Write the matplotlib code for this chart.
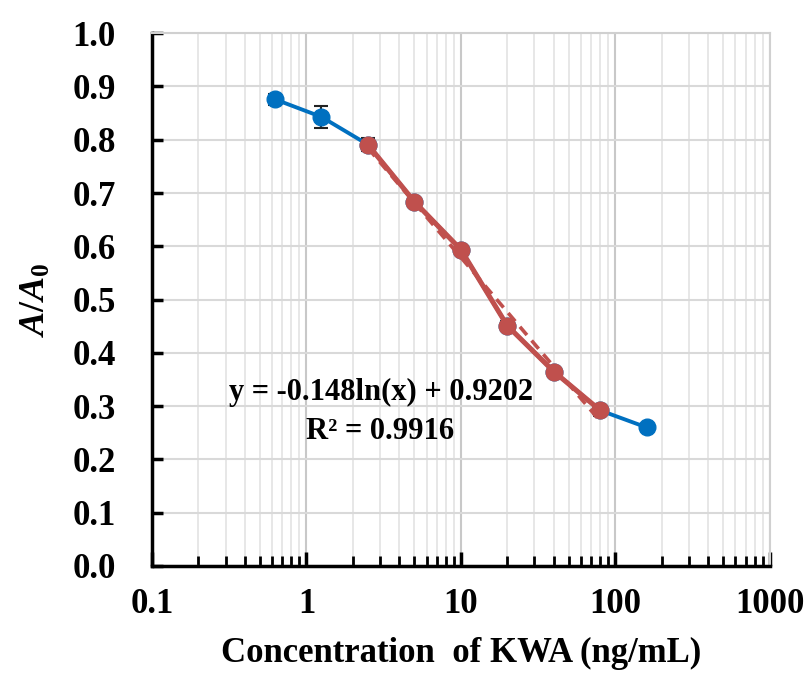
import numpy as np
import matplotlib.pyplot as plt
from matplotlib.ticker import LogLocator, NullFormatter

plt.rcParams['font.family'] = ['Liberation Serif', 'DejaVu Serif']
plt.rcParams['font.weight'] = 'bold'
plt.rcParams['mathtext.fontset'] = 'custom'
plt.rcParams['mathtext.it'] = 'Liberation Serif:italic:bold'
plt.rcParams['mathtext.rm'] = 'Liberation Serif:bold'

# data
conc = [0.625, 1.25, 2.5, 5, 10, 20, 40, 80, 160]
ratio = [0.876, 0.843, 0.791, 0.684, 0.594, 0.451, 0.365, 0.292, 0.260]
err = [0.010, 0.020, 0.012, 0.006, 0.008, 0.008, 0.008, 0.010, 0.006]

lin_conc = [2.5, 5, 10, 20, 40, 80]
lin_ratio = [0.791, 0.684, 0.594, 0.451, 0.365, 0.292]
fit_a, fit_b = -0.148, 0.9202

blue = '#0070C0'
red = '#C0504D'

fig = plt.figure(figsize=(8.11, 6.75), dpi=100)
ax = fig.add_axes([0.1874, 0.1615, 0.7616, 0.7893])

ax.errorbar(conc, ratio, yerr=err, color=blue, lw=2.8, marker='o', ms=12,
            ecolor='#222222', elinewidth=1.5, capsize=5, capthick=1.5, zorder=3)
ax.plot(lin_conc, lin_ratio, color=red, lw=3.6, marker='o', ms=12, zorder=4)
xs = np.geomspace(lin_conc[0], lin_conc[-1], 50)
ax.plot(xs, fit_a * np.log(xs) + fit_b, color=red, lw=2.6, ls=(0, (3, 2)), zorder=5)

ax.set_xscale('log')
ax.set_xlim(0.1, 1000)
ax.set_ylim(0, 1.0)
ax.set_xticks([0.1, 1, 10, 100, 1000])
ax.set_xticklabels(['0.1', '1', '10', '100', '1000'])
ax.xaxis.set_minor_locator(LogLocator(base=10, subs=np.arange(2, 10)))
ax.xaxis.set_minor_formatter(NullFormatter())
ax.set_yticks(np.arange(0, 1.01, 0.1))
ax.set_yticklabels(['%.1f' % v for v in np.arange(0, 1.01, 0.1)])

ax.grid(which='major', axis='x', color='#C8C8C8', lw=1.5)
ax.grid(which='minor', axis='x', color='#E3E3E3', lw=1.2)
ax.grid(which='major', axis='y', color='#D9D9D9', lw=1.5)
ax.set_axisbelow(True)

for s in ['left', 'bottom']:
    ax.spines[s].set_linewidth(2.5)
    ax.spines[s].set_color('black')
for s in ['right', 'top']:
    ax.spines[s].set_color('#D0D0D0')
    ax.spines[s].set_linewidth(1.5)

ax.tick_params(axis='both', which='major', direction='in', length=8, width=2.5,
               labelsize=25, top=False, right=False)
ax.tick_params(axis='x', which='minor', direction='in', length=7, width=2)
ax.tick_params(axis='x', which='major', length=10, pad=16)
ax.tick_params(axis='y', which='major', pad=26)

ax.set_xlabel('Concentration  of KWA (ng/mL)', fontsize=25, fontweight='bold', labelpad=11)
ax.set_ylabel(r'$A/A_0$', fontsize=26, labelpad=14)

ax.text(0.37, 0.326, 'y = -0.148ln(x) + 0.9202', transform=ax.transAxes,
        ha='center', va='center', fontsize=22, fontweight='bold')
ax.text(0.37, 0.252, 'R² = 0.9916', transform=ax.transAxes,
        ha='center', va='center', fontsize=22, fontweight='bold')

fig.savefig('out.png', dpi=100)
